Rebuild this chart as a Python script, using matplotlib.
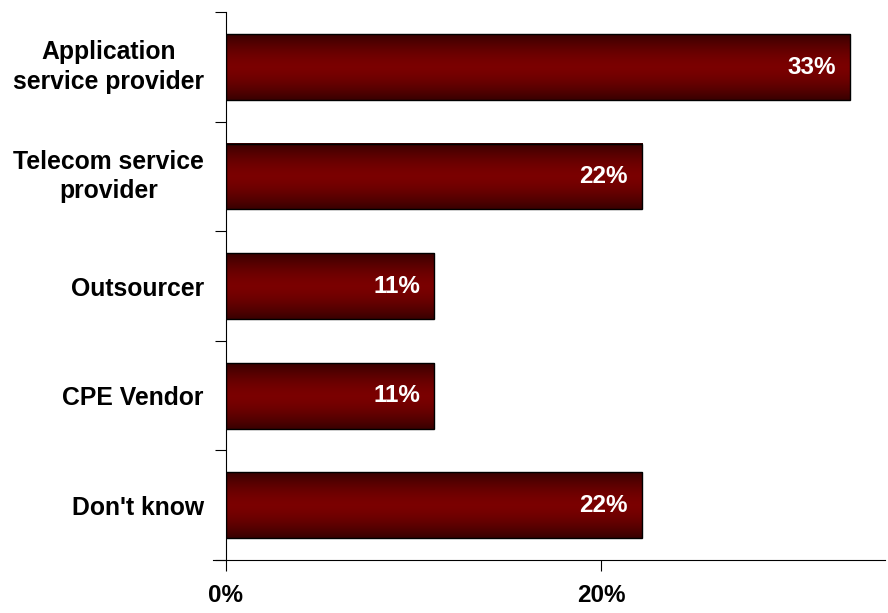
import matplotlib.pyplot as plt
import matplotlib.transforms as mtransforms
import numpy as np

categories = ["Application\nservice provider", "Telecom service\nprovider", "Outsourcer",
              "CPE Vendor", "Don't know"]
values = [33.3, 22.2, 11.1, 11.1, 22.2]
value_labels = ["33%", "22%", "11%", "11%", "22%"]
xticks = [0, 20]
xtick_labels = ["0%", "20%"]

plt.rcParams['font.family'] = ['Liberation Sans', 'DejaVu Sans']
plt.rcParams['font.weight'] = 'bold'

fig = plt.figure(figsize=(8.88, 6.13), dpi=100)
ax = fig.add_axes([0.2545, 0.0865, 0.742, 0.8935])

pos = np.arange(len(categories))[::-1]
bars = ax.barh(pos, values, height=0.6, color='none', edgecolor='black', linewidth=1.0, zorder=3)

# vertical gradient: dark at top/bottom edges, red in the middle
t = np.linspace(-1, 1, 256)
w = np.abs(t) ** 1.6
dark = np.array([0.22, 0.0, 0.0])
red = np.array([0.48, 0.0, 0.0])
grad = (red[None, :] * (1 - w[:, None]) + dark[None, :] * w[:, None])[:, None, :]

for b, lab in zip(bars, value_labels):
    x0, y0 = b.get_x(), b.get_y()
    ax.imshow(grad, extent=[x0, x0 + b.get_width(), y0, y0 + b.get_height()],
              aspect='auto', zorder=2, interpolation='bilinear')
    ax.text(b.get_width() - 0.75, y0 + b.get_height() / 2, lab, color='white',
            ha='right', va='center', fontsize=17.5, fontweight='bold', zorder=4)

ax.set_xlim(0, 35.15)
ax.set_ylim(-0.5, len(categories) - 0.5)

ax.set_xticks(xticks)
ax.set_xticklabels(xtick_labels, fontsize=17.5, fontweight='bold')
ax.tick_params(axis='x', direction='out', length=8, pad=9, width=0.8)

ax.set_yticks(np.arange(-0.5, len(categories), 1))
ax.set_yticklabels([])
ax.set_yticks(pos, minor=True)
ax.set_yticklabels(categories, minor=True, fontsize=17.8, fontweight='bold', ha='right')
ax.tick_params(axis='y', which='major', direction='out', length=8, width=0.8)
ax.tick_params(axis='y', which='minor', length=0, pad=16)

shift = mtransforms.ScaledTranslation(0, 4 / 72, fig.dpi_scale_trans)
for lbl in ax.get_yticklabels(minor=True):
    lbl.set_multialignment('center')
    lbl.set_linespacing(1.3)
    if '\n' in lbl.get_text():
        lbl.set_transform(lbl.get_transform() + shift)

ax.spines['top'].set_visible(False)
ax.spines['right'].set_visible(False)
ax.spines['left'].set_linewidth(0.8)
ax.spines['bottom'].set_linewidth(0.8)
ax.spines['bottom'].set_bounds(-0.7, 35.15)

fig.savefig('out.png', dpi=100)
